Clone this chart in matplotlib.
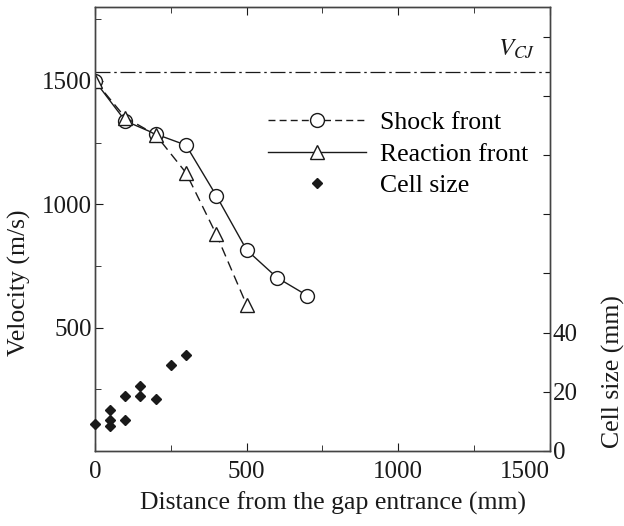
import numpy as np
import matplotlib
matplotlib.use('Agg')
import matplotlib.pyplot as plt
from matplotlib.lines import Line2D
from matplotlib.ticker import MultipleLocator

plt.rcParams['font.family'] = ['Liberation Serif', 'DejaVu Serif']
plt.rcParams['mathtext.fontset'] = 'stix'

# data
shock_x = [0, 100, 200, 300, 400, 500, 600, 700]
shock_v = [1500, 1338, 1285, 1240, 1035, 815, 703, 630]
react_x = [0, 100, 200, 300, 400, 500]
react_v = [1500, 1352, 1282, 1128, 878, 592]
cell_x = [0, 50, 50, 50, 100, 100, 150, 150, 200, 250, 300]
cell_s = [9, 14, 10.5, 8.5, 18.5, 10.5, 22, 18.5, 17.5, 29, 32.5]
v_cj = 1538

ink = '#1a1a1a'

fig = plt.figure(figsize=(6.24, 5.26), dpi=100)
ax = fig.add_axes([0.1522, 0.1426, 0.7292, 0.8441])
ax2 = ax.twinx()

# velocity curves
ax.plot(shock_x, shock_v, '-', color=ink, lw=1.0, marker='o', ms=10,
        mfc='white', mec=ink, mew=1.0, zorder=3)
ax.plot(react_x, react_v, color=ink, lw=1.0, ls=(0, (7, 4)), marker='^', ms=10,
        mfc='white', mec=ink, mew=1.0, zorder=3)
ax.axhline(v_cj, color=ink, lw=0.9, ls=(0, (12, 3, 2, 3)))
ax.text(1390, 1628, r'$V_{CJ}$', fontsize=18, ha='center', va='center', color=ink)

# cell size on right axis
ax2.plot(cell_x, cell_s, 'D', color=ink, ms=5.5, clip_on=False, zorder=4)

ax.set_xlim(0, 1500)
ax.set_ylim(0, 1800)
ax2.set_ylim(0, 150)

ax.xaxis.set_major_locator(MultipleLocator(500))
ax.xaxis.set_minor_locator(MultipleLocator(250))
ax.yaxis.set_minor_locator(MultipleLocator(250))
ax.set_xticks([0, 500, 1000, 1500])
ax.set_xticklabels(['0', '500', '1000', '1500'])
ax.set_yticks([500, 1000, 1500])
ax.set_yticklabels(['500', '1000', '1500'])
ax2.set_yticks(np.arange(0, 150, 20))
ax2.set_yticklabels(['0', '20', '40', '', '', '', '', ''])

ax.tick_params(which='both', direction='in', top=True, labelsize=18, colors=ink, pad=2)
ax.tick_params(axis='x', which='both', pad=7)
ax.tick_params(which='major', length=6)
ax.tick_params(which='minor', length=4)
ax2.tick_params(direction='in', length=5, labelsize=18, colors=ink, pad=2)
# last x label sits left of the right spine, as in the original
ax.get_xticklabels()[-1].set_horizontalalignment('right')
ax2.get_yticklabels()[0].set_verticalalignment('center_baseline')

for a in (ax, ax2):
    for s in a.spines.values():
        s.set_color('#444444')
        s.set_linewidth(1.0)

ax.set_xlabel('Distance from the gap entrance (mm)', fontsize=18.5, color=ink)
ax.set_ylabel('Velocity (m/s)', fontsize=18.5, color=ink)
ax2.set_ylabel('Cell size (mm)', fontsize=18.5, color=ink)
ax.xaxis.set_label_coords(0.523, -0.092)
ax.yaxis.set_label_coords(-0.14, 0.38)
ax2.yaxis.set_label_coords(1.114, 0.178)

handles = [
    Line2D([], [], color=ink, lw=1.0, ls=(0, (5, 3)), marker='o', ms=10, mfc='white', mec=ink),
    Line2D([], [], color=ink, lw=1.0, ls='-', marker='^', ms=10, mfc='white', mec=ink),
    Line2D([], [], color=ink, lw=0, marker='D', ms=5.5),
]
ax.legend(handles, ['Shock front', 'Reaction front', 'Cell size'], frameon=False,
          fontsize=18.5, handlelength=3.8, handletextpad=0.55, labelspacing=0.33,
          loc='upper left', bbox_to_anchor=(0.358, 0.788), borderaxespad=0)

fig.savefig('out.png', dpi=100)
